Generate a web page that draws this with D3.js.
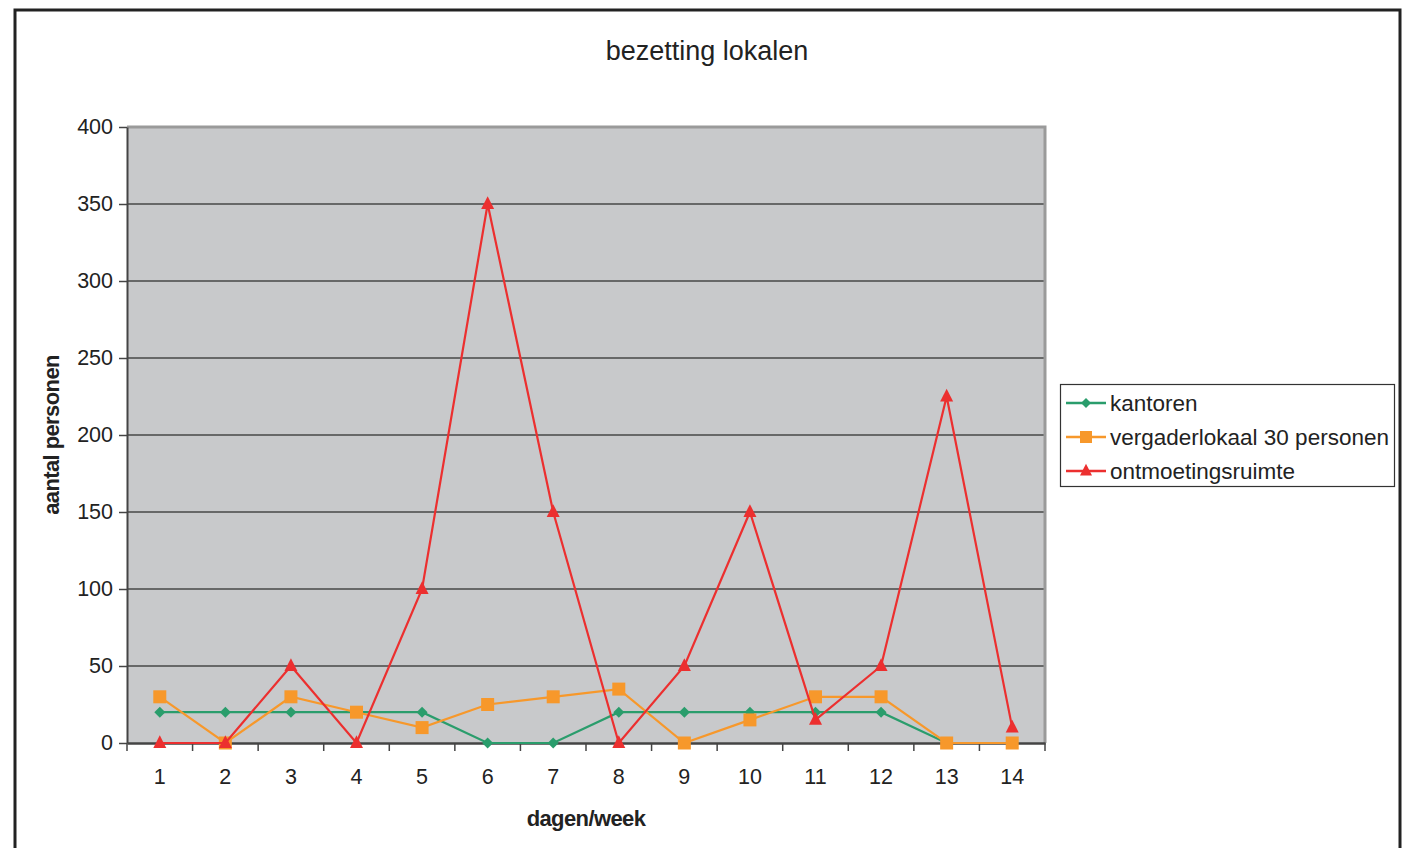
<!DOCTYPE html>
<html><head><meta charset="utf-8">
<script src="https://cdn.jsdelivr.net/npm/d3@7/dist/d3.min.js"></script>
<style>body{margin:0;background:#fff;}svg{display:block;font-family:"Liberation Sans",Arial,sans-serif;}</style>
</head><body>
<svg id="c" width="1407" height="848"></svg>
<script>
const days = ["1","2","3","4","5","6","7","8","9","10","11","12","13","14"];
const kantoren = [20,20,20,20,20,0,0,20,20,20,20,20,0,0];
const vergaderlokaal = [30,0,30,20,10,25,30,35,0,15,30,30,0,0];
const ontmoetingsruimte = [0,0,50,0,100,350,150,0,50,150,15,50,225,10];
const yTicks = [0,50,100,150,200,250,300,350,400];
const seriesNames = ["kantoren","vergaderlokaal 30 personen","ontmoetingsruimte"];

const colors = ["#2a9d6c","#f7982b","#ec2f2f"];
const series = [kantoren, vergaderlokaal, ontmoetingsruimte];

const svg = d3.select("#c");
svg.append("rect").attr("x",15).attr("y",10).attr("width",1385).attr("height",850)
  .attr("fill","none").attr("stroke","#222").attr("stroke-width",3);

const L=127, R=1045, T=127, B=743;
const x = d3.scaleBand().domain(days).range([L,R]);
const y = d3.scaleLinear().domain([0,400]).range([B,T]);

svg.append("rect").attr("x",L).attr("y",T).attr("width",R-L).attr("height",B-T).attr("fill","#c8c9cb");
svg.append("g").selectAll("line").data(yTicks.filter(d=>d>0 && d<400)).join("line")
  .attr("x1",L).attr("x2",R).attr("y1",d=>y(d)).attr("y2",d=>y(d))
  .attr("stroke","#474747").attr("stroke-width",1.6);
svg.append("path").attr("d",`M${L},${T}H${R}V${B}`).attr("fill","none").attr("stroke","#9a9a9a").attr("stroke-width",3);

const FONT = "Liberation Sans, Arial, sans-serif";
const ya = svg.append("g").attr("transform",`translate(${L},0)`)
  .call(d3.axisLeft(y).tickValues(yTicks).tickSize(8).tickSizeOuter(0).tickPadding(6));
ya.select(".domain").attr("stroke","#444").attr("stroke-width",2);
ya.selectAll(".tick line").attr("stroke","#444").attr("stroke-width",1.5);
ya.selectAll("text").attr("font-size",21.5).attr("fill","#222").attr("font-family",FONT);

const xa = svg.append("g").attr("transform",`translate(0,${B})`)
  .call(d3.axisBottom(x).tickSize(0).tickPadding(26));
xa.select(".domain").attr("stroke","#444").attr("stroke-width",2.5);
xa.selectAll("text").attr("font-size",21.5).attr("fill","#222").attr("font-family",FONT);
const bounds = days.map(d=>x(d)).concat([R]);
svg.append("g").selectAll("line").data(bounds).join("line")
  .attr("x1",d=>d).attr("x2",d=>d).attr("y1",B).attr("y2",B+8)
  .attr("stroke","#444").attr("stroke-width",1.5);

svg.append("text").attr("x",707).attr("y",60).attr("text-anchor","middle")
  .attr("font-size",27).attr("fill","#222").text("bezetting lokalen");
svg.append("text").attr("x",586).attr("y",826).attr("text-anchor","middle")
  .attr("font-size",22).attr("font-weight","bold").attr("fill","#222").attr("letter-spacing",-0.6).text("dagen/week");
svg.append("text").attr("transform","translate(59,435) rotate(-90)").attr("text-anchor","middle")
  .attr("font-size",22).attr("font-weight","bold").attr("fill","#222").attr("letter-spacing",-0.6).text("aantal personen");

const cx = d=>x(d)+x.bandwidth()/2;
function marker(g, i, px, py, s){
  if(i===0){
    g.append("path").attr("d",`M${px},${py-s}L${px+s},${py}L${px},${py+s}L${px-s},${py}Z`).attr("fill",colors[0]);
  } else if(i===1){
    g.append("rect").attr("x",px-s).attr("y",py-s).attr("width",2*s).attr("height",2*s).attr("fill",colors[1]);
  } else {
    g.append("path").attr("d",`M${px},${py-s*1.2}L${px+s},${py+s*0.75}L${px-s},${py+s*0.75}Z`).attr("fill",colors[2]);
  }
}
const sizes = [5.5,6.5,6.5];
const line = d3.line().x((d,j)=>cx(days[j])).y(d=>y(d));
series.forEach((vals,i)=>{
  const g = svg.append("g");
  g.append("path").datum(vals).attr("d",line).attr("fill","none").attr("stroke",colors[i]).attr("stroke-width",2.2);
  vals.forEach((v,j)=>marker(g,i,cx(days[j]),y(v), sizes[i]));
});

const lg = svg.append("g");
lg.append("rect").attr("x",1060.5).attr("y",384.5).attr("width",334).attr("height",102)
  .attr("fill","#fff").attr("stroke","#333").attr("stroke-width",1.2);
seriesNames.forEach((n,i)=>{
  const ly = 403 + i*34;
  lg.append("line").attr("x1",1066).attr("x2",1106).attr("y1",ly).attr("y2",ly).attr("stroke",colors[i]).attr("stroke-width",2.5);
  marker(lg,i,1086,ly, i===0?5:6);
  lg.append("text").attr("x",1110).attr("y",ly+8).attr("font-size",22.5).attr("fill","#222").text(n);
});
</script>
</body></html>
